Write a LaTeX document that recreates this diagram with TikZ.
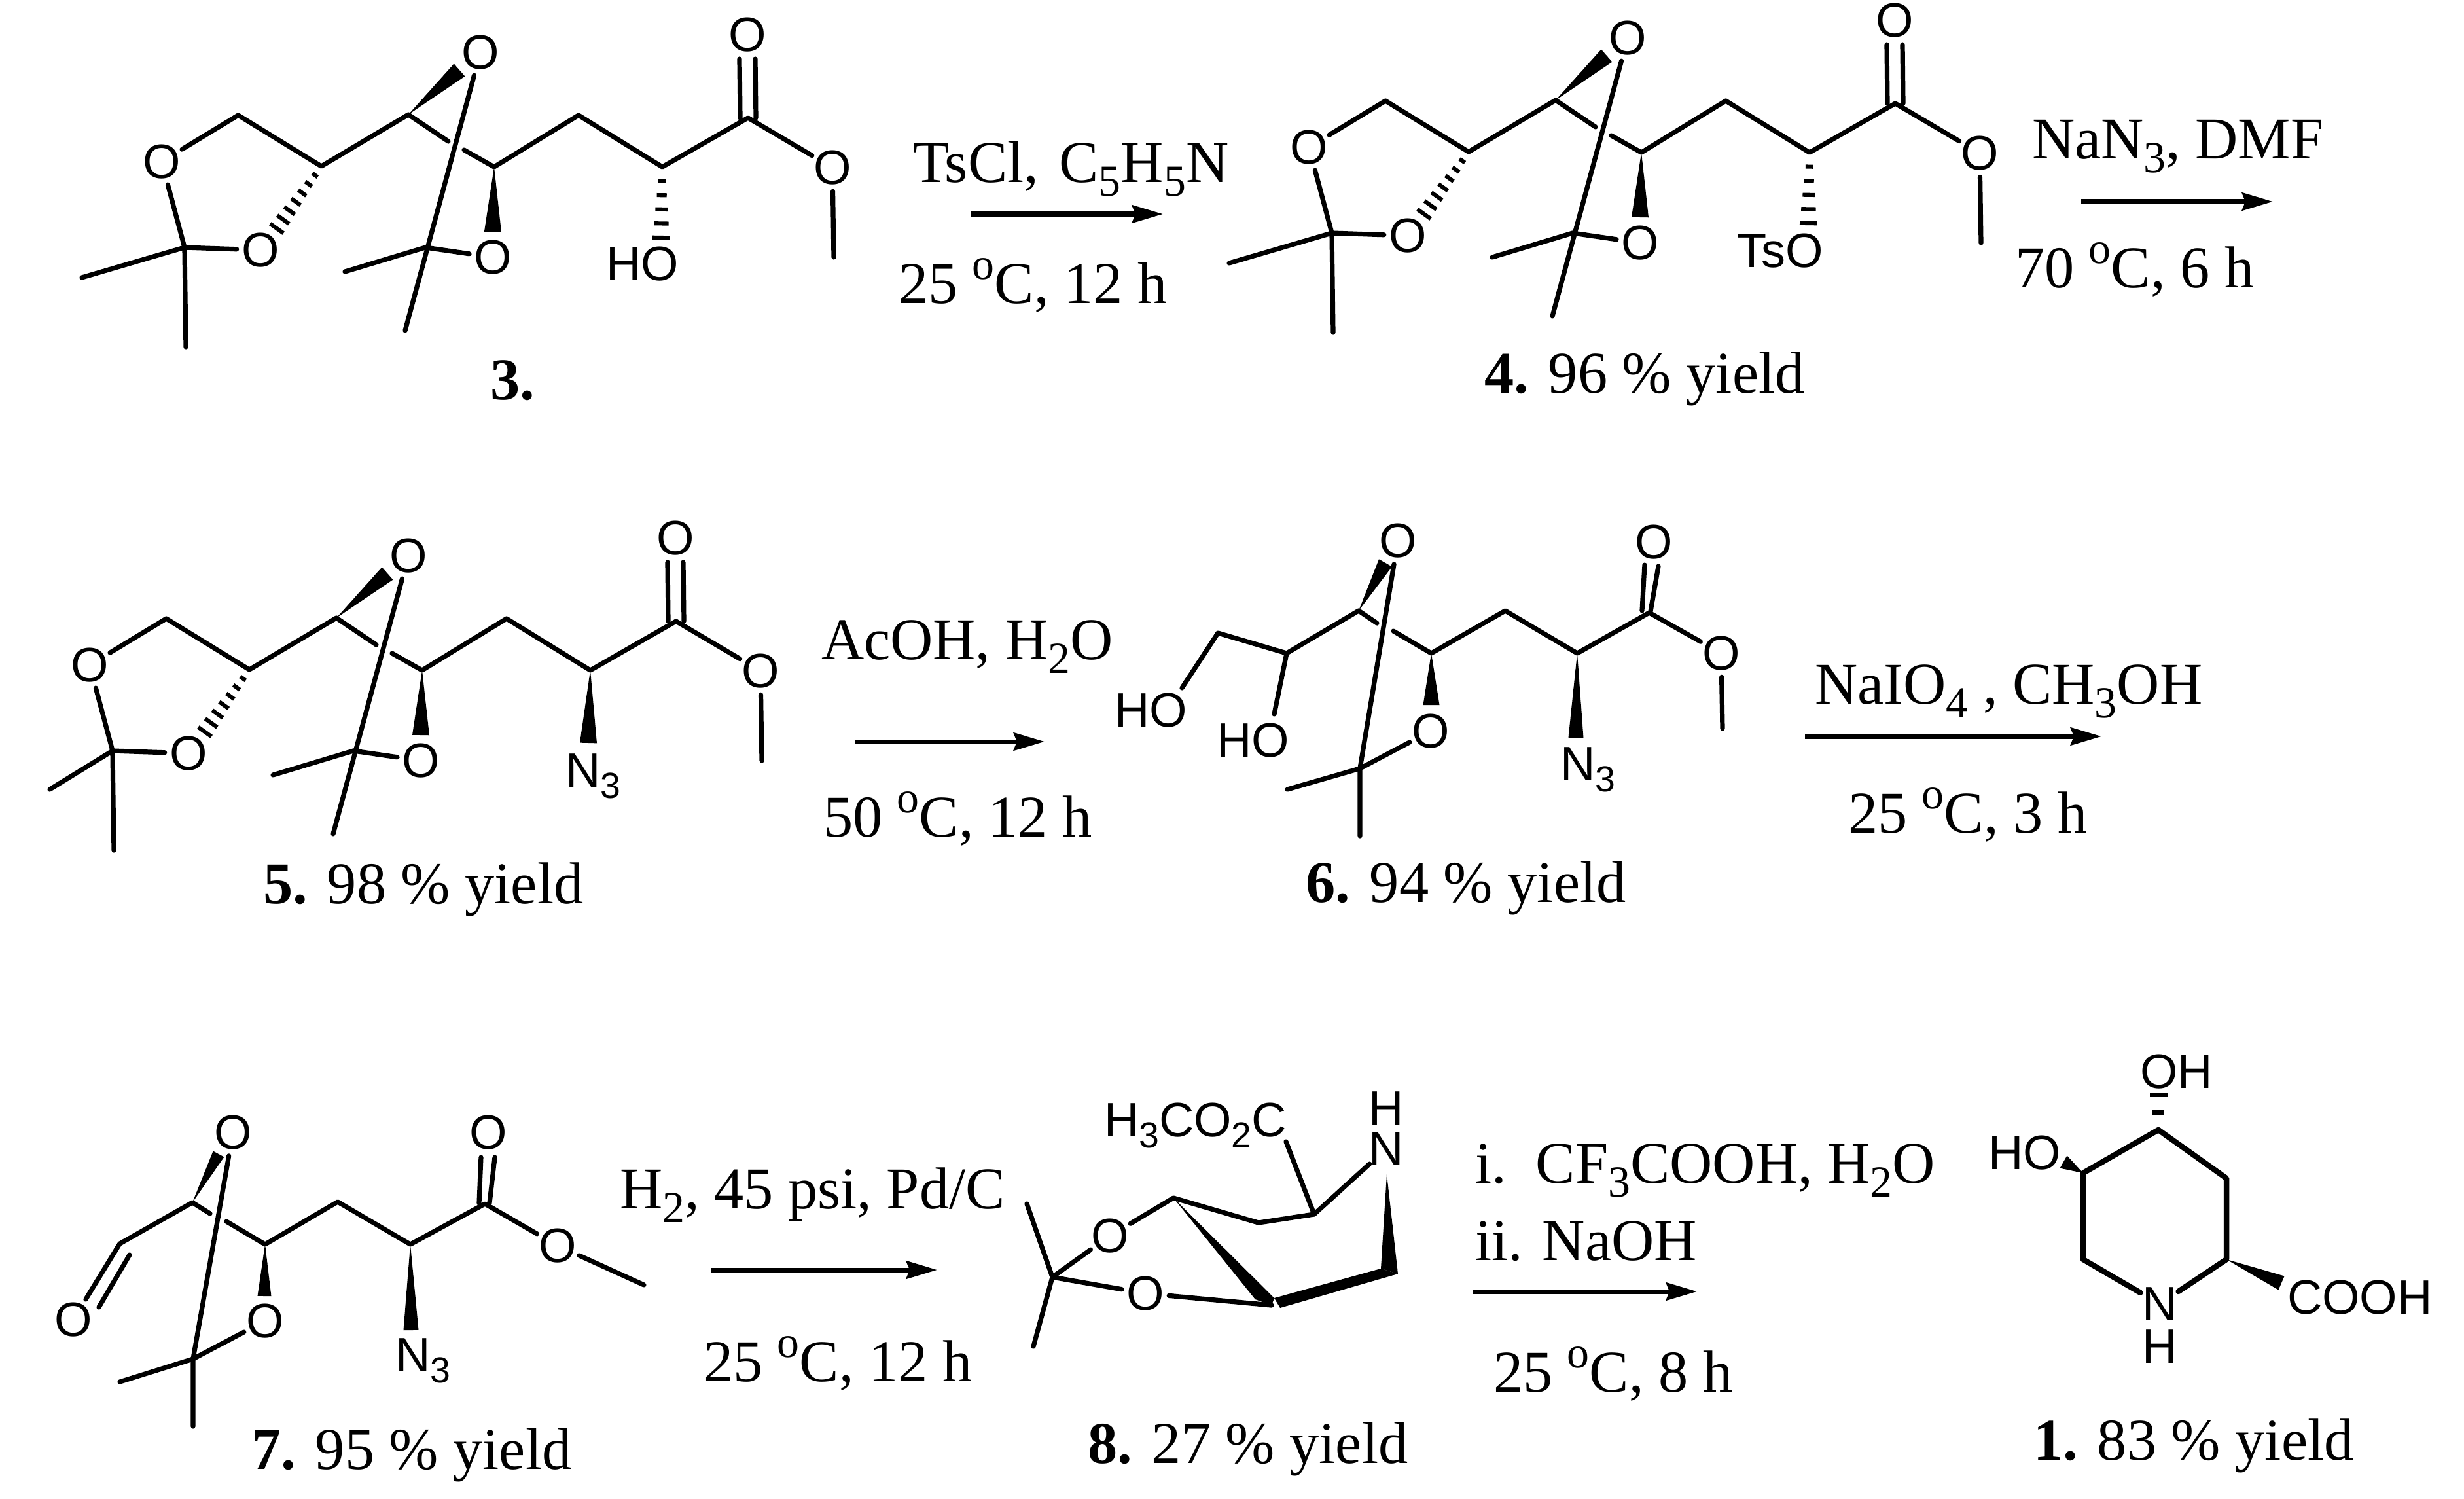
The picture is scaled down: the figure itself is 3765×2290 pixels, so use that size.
\documentclass[tikz,border=0pt]{standalone}
\usepackage{fontspec}
\setmainfont{Liberation Serif}
\setsansfont{Liberation Sans}
\usetikzlibrary{calc,arrows.meta}

\newcommand{\chemsub}[1]{\raisebox{-0.24em}{\scalebox{0.75}{#1}}}
\newcommand{\chemsup}[1]{\raisebox{0.4em}{\scalebox{0.75}{#1}}}

\tikzset{
  bond/.style={line width=2.05pt,line cap=round,line join=round},
  atom/.style={circle,inner sep=-0.5pt,outer sep=0pt,font=\sffamily\fontsize{21pt}{24pt}\selectfont},
  lab/.style={inner sep=0pt,outer sep=0pt,font=\sffamily\fontsize{21pt}{24pt}\selectfont},
  txt/.style={anchor=base west,inner sep=0pt,outer sep=0pt,font=\rmfamily\fontsize{25.7pt}{30pt}\selectfont},
  rxn/.style={line width=2pt,-{Stealth[length=4.7mm,width=2.7mm,inset=0.5mm]}}
}

% solid and hashed stereo bonds: from, to, half width at the far end
\newcommand{\wedgebond}[3]{\fill (#1) -- ($(#2)!#3!90:(#1)$) -- ($(#2)!#3!-90:(#1)$) -- cycle;}
\newcommand{\hashbond}[4]{%
  \foreach \k in {1,...,#4}{
    \pgfmathsetmacro{\t}{\k/#4}
    \pgfmathsetmacro{\h}{#3*(0.3+0.7*\t)}
    \coordinate (hc) at ($(#1)!\t!(#2)$);
    \draw[line width=1.75pt] ($(hc)!\h cm!90:(#1)$) -- ($(hc)!\h cm!-90:(#1)$);
  }}

% the chain shared by 3, 4 and 5
\newcommand{\dioxchain}{
  \node[atom] (oa) at (247,247) {O};
  \node[atom] (ob) at (398,382) {O};
  \node[atom] (oc) at (734,80) {O};
  \node[atom] (od) at (753,393) {O};
  \node[atom] (oe) at (1142,53) {O};
  \node[atom] (of) at (1272,256) {O};
  \coordinate (ca) at (364,176);
  \coordinate (cb) at (491,254);
  \coordinate (cc) at (624,175);
  \coordinate (cd) at (755,255);
  \coordinate (ce) at (884,176);
  \coordinate (cf) at (1012,255);
  \coordinate (cg) at (1143,180);
  \coordinate (qa) at (282,378);
  \coordinate (qb) at (650,378);
  \coordinate (ma) at (284,530);
  \coordinate (mb) at (527,415);
  \coordinate (mc) at (619,505);
  \coordinate (md) at (1274,393);
  \coordinate (xa) at (685,216);
  \coordinate (xb) at (709,229);
  \coordinate (wa) at (702,107);
  \coordinate (wb) at (753,354);
  \coordinate (hb) at (423,349);
  \draw[bond] (oa) -- (ca) -- (cb) -- (cc) -- (xa);
  \draw[bond] (xb) -- (cd) -- (ce) -- (cf) -- (cg) -- (of) -- (md);
  \draw[bond] (oa) -- (qa) -- (ob);
  \draw[bond] (qa) -- (ma);
  \draw[bond] (oc) -- (mc);
  \draw[bond] (qb) -- (mb);
  \draw[bond] (qb) -- (od);
  \draw[bond] ($(cg)+(-12,0)$) -- ($(oe)+(-12,37)$);
  \draw[bond] ($(cg)+(12,0)$) -- ($(oe)+(12,37)$);
  \wedgebond{cc}{wa}{0.127cm}
  \wedgebond{cd}{wb}{0.13cm}
  \hashbond{cb}{hb}{0.125}{7}
}

\begin{document}
\begin{tikzpicture}[x=0.01cm,y=-0.01cm]
  \useasboundingbox (0,0) rectangle (3765,2290);

  % 3
  \begin{scope}
    \dioxchain
    \coordinate (mz) at (125,424);
    \coordinate (hz) at (1010,363);
    \draw[bond] (qa) -- (mz);
    \hashbond{cf}{hz}{0.13}{5}
    \node[lab,anchor=base east] (hoa) at (1037,428) {HO};
  \end{scope}
  \node[txt] (nma) at (749,610) {\textbf{3.}};

  % first step
  \node[txt] (ra) at (1395,278) {TsCl,\hspace{0.1em} C\chemsub{5}H\chemsub{5}N};
  \node[txt] (rb) at (1373,463) {25 \chemsup{o}C, 12 h};
  \coordinate (aa) at (1483,327);
  \coordinate (ab) at (1777,327);
  \draw[rxn] (aa) -- (ab);

  % 4
  \begin{scope}[shift={(1753,-22)}]
    \dioxchain
    \coordinate (mz) at (125,424);
    \coordinate (hz) at (1010,363);
    \draw[bond] (qa) -- (mz);
    \hashbond{cf}{hz}{0.13}{5}
    \node[lab,anchor=base east] (tso) at (1033,430) {TsO};
  \end{scope}
  \node[txt] (nmb) at (2268,600) {\textbf{4.} 96 \% yield};

  % second step
  \node[txt] (rc) at (3105,242) {NaN\chemsub{3}, DMF};
  \node[txt] (rd) at (3079,439) {70 \chemsup{o}C, 6 h};
  \coordinate (ac) at (3180,308);
  \coordinate (ad) at (3473,308);
  \draw[rxn] (ac) -- (ad);

  % 5
  \begin{scope}[shift={(-110,769)}]
    \dioxchain
    \coordinate (mz) at (186,437);
    \coordinate (nz) at (1009,366);
    \draw[bond] (qa) -- (mz);
    \wedgebond{cf}{nz}{0.13cm}
    \node[lab,anchor=base west] (na) at (974,433) {N\chemsub{3}};
  \end{scope}
  \node[txt] (nmc) at (402,1380) {\textbf{5.} 98 \% yield};

  % third step
  \node[txt] (re) at (1255,1007) {AcOH, H\chemsub{2}O};
  \node[txt] (rf) at (1258,1278) {50 \chemsup{o}C, 12 h};
  \coordinate (ae) at (1306,1133);
  \coordinate (af) at (1596,1133);
  \draw[rxn] (ae) -- (af);

  % 6
  \begin{scope}
    \node[atom] (pa) at (2136,826) {O};
    \node[atom] (pb) at (2186,1117) {O};
    \node[atom] (pc) at (2527,828) {O};
    \node[atom] (pd) at (2630,998) {O};
    \coordinate (da) at (1861,967);
    \coordinate (db) at (1966,998);
    \coordinate (dc) at (2076,933);
    \coordinate (dd) at (2187,998);
    \coordinate (de) at (2300,933);
    \coordinate (df) at (2410,998);
    \coordinate (dg) at (2520,936);
    \coordinate (dq) at (2078,1174);
    \coordinate (dm) at (2078,1277);
    \coordinate (dn) at (1967,1206);
    \coordinate (dk) at (2632,1113);
    \coordinate (dh) at (1806,1051);
    \coordinate (di) at (1947,1091);
    \coordinate (xc) at (2104,952);
    \coordinate (xd) at (2129,964);
    \coordinate (wc) at (2117,860);
    \coordinate (wd) at (2187,1077);
    \coordinate (we) at (2408,1127);
    \draw[bond] (dh) -- (da) -- (db) -- (dc) -- (xc);
    \draw[bond] (xd) -- (dd) -- (de) -- (df) -- (dg) -- (pd) -- (dk);
    \draw[bond] (db) -- (di);
    \draw[bond] (pa) -- (dq) -- (dm);
    \draw[bond] (dn) -- (dq) -- (pb);
    \coordinate (ea) at (2509,933);
    \coordinate (eb) at (2513,863);
    \coordinate (ec) at (2522,934);
    \coordinate (ed) at (2534,865);
    \draw[bond] (ea) -- (eb);
    \draw[bond] (ec) -- (ed);
    \wedgebond{dc}{wc}{0.115cm}
    \wedgebond{dd}{wd}{0.125cm}
    \wedgebond{df}{we}{0.115cm}
    \node[lab,anchor=base east] (hob) at (1814,1110) {HO};
    \node[lab,anchor=base east] (hoc) at (1970,1156) {HO};
    \node[lab,anchor=base west] (nb) at (2384,1192) {N\chemsub{3}};
  \end{scope}
  \node[txt] (nmd) at (1995,1378) {\textbf{6.} 94 \% yield};

  % fourth step
  \node[txt] (rg) at (2773,1075) {NaIO\chemsub{4} , CH\chemsub{3}OH};
  \node[txt] (rh) at (2824,1272) {25 \chemsup{o}C, 3 h};
  \coordinate (ag) at (2758,1125);
  \coordinate (ah) at (3211,1125);
  \draw[rxn] (ag) -- (ah);

  % 7
  \begin{scope}
    \node[atom] (sa) at (356,1730) {O};
    \node[atom] (sb) at (405,2018) {O};
    \node[atom] (sc) at (112,2016) {O};
    \node[atom] (sd) at (746,1730) {O};
    \node[atom] (se) at (852,1903) {O};
    \coordinate (ga) at (183,1900);
    \coordinate (gb) at (294,1837);
    \coordinate (gc) at (405,1901);
    \coordinate (gd) at (516,1836);
    \coordinate (ge) at (627,1901);
    \coordinate (gf) at (741,1839);
    \coordinate (gq) at (295,2076);
    \coordinate (gm) at (295,2179);
    \coordinate (gn) at (183,2111);
    \coordinate (gk) at (984,1963);
    \coordinate (xe) at (321,1854);
    \coordinate (xf) at (346,1866);
    \coordinate (wf) at (334,1763);
    \coordinate (wg) at (404,1980);
    \coordinate (wh) at (628,2032);
    \draw[bond] (sc) -- (ga) -- (gb) -- (xe);
    \draw[bond] (xf) -- (gc) -- (gd) -- (ge) -- (gf) -- (se) -- (gk);
    \draw[bond] (sa) -- (gq) -- (gm);
    \draw[bond] (gn) -- (gq) -- (sb);
    \coordinate (ha) at (198,1917);
    \coordinate (hb) at (151,1997);
    \coordinate (hd) at (732,1838);
    \coordinate (he) at (735,1768);
    \coordinate (hf) at (748,1838);
    \coordinate (hg) at (756,1768);
    \draw[bond] (ha) -- (hb);
    \draw[bond] (hd) -- (he);
    \draw[bond] (hf) -- (hg);
    \wedgebond{gb}{wf}{0.095cm}
    \wedgebond{gc}{wg}{0.105cm}
    \wedgebond{ge}{wh}{0.115cm}
    \node[lab,anchor=base west] (nc) at (604,2095) {N\chemsub{3}};
  \end{scope}
  \node[txt] (nme) at (384,2244) {\textbf{7.} 95 \% yield};

  % fifth step
  \node[txt] (ri) at (947,1846) {H\chemsub{2}, 45 psi, Pd/C};
  \node[txt] (rj) at (1075,2110) {25 \chemsup{o}C, 12 h};
  \coordinate (ai) at (1087,1940);
  \coordinate (aj) at (1432,1940);
  \draw[rxn] (ai) -- (aj);

  % 8
  \begin{scope}
    \node[atom] (ta) at (1696,1888) {O};
    \node[atom] (tb) at (1750,1976) {O};
    \node[atom] (tn) at (2118,1755) {N};
    \node[lab,anchor=base] (th) at (2118,1718) {H};
    \node[lab,anchor=base west] (co) at (1687,1736) {H\chemsub{3}CO\chemsub{2}C};
    \coordinate (ia) at (1569,1839);
    \coordinate (iq) at (1608,1951);
    \coordinate (ib) at (1579,2057);
    \coordinate (ic) at (1793,1830);
    \coordinate (id) at (1923,1868);
    \coordinate (ie) at (2008,1855);
    \coordinate (if) at (1965,1744);
    \coordinate (ig) at (1943,1994);
    \coordinate (ja) at (1918,1985);
    \coordinate (jb) at (1947,1983);
    \coordinate (jc) at (1956,1998);
    \coordinate (jd) at (2136,1946);
    \coordinate (je) at (2110,1938);
    \coordinate (jf) at (2119,1794);
    \draw[bond] (ia) -- (iq) -- (ib);
    \draw[bond] (iq) -- (ta) -- (ic) -- (id) -- (ie) -- (tn);
    \draw[bond] (iq) -- (tb) -- (ig);
    \draw[bond] (ie) -- (if);
    \fill (ic) -- (ja) -- (ig) -- (jb) -- cycle;
    \fill (jb) -- (jc) -- (jd) -- (je) -- cycle;
    \fill (je) -- (jd) -- (jf) -- cycle;
  \end{scope}
  \node[txt] (nmf) at (1662,2235) {\textbf{8.} 27 \% yield};

  % last step
  \node[txt] (rk) at (2254,1807) {i.\ \ CF\chemsub{3}COOH, H\chemsub{2}O};
  \node[txt] (rl) at (2254,1925) {ii. NaOH};
  \node[txt] (rm) at (2282,2126) {25 \chemsup{o}C, 8 h};
  \coordinate (ak) at (2251,1973);
  \coordinate (al) at (2593,1973);
  \draw[rxn] (ak) -- (al);

  % 1
  \begin{scope}
    \node[atom] (un) at (3300,1992) {N};
    \node[lab,anchor=base] (uh) at (3300,2082) {H};
    \node[lab,anchor=base west] (oh) at (3270,1662) {OH};
    \node[lab,anchor=base east] (hod) at (3149,1786) {HO};
    \node[lab,anchor=base west] (cooh) at (3495,2007) {COOH};
    \coordinate (ka) at (3298,1726);
    \coordinate (kb) at (3402,1800);
    \coordinate (kc) at (3402,1924);
    \coordinate (kd) at (3183,1924);
    \coordinate (ke) at (3183,1792);
    \coordinate (kf) at (3298,1673);
    \coordinate (kg) at (3153,1775);
    \coordinate (kh) at (3486,1960);
    \draw[bond,line width=2.4pt] (kd) -- (ke) -- (ka) -- (kb) -- (kc) -- (un);
    \draw[bond,line width=2.4pt] (un) -- (kd);
    \wedgebond{ke}{kg}{0.11cm}
    \wedgebond{kc}{kh}{0.115cm}
    \hashbond{ka}{kf}{0.135}{2}
  \end{scope}
  \node[txt] (nmg) at (3107,2230) {\textbf{1.} 83 \% yield};
\end{tikzpicture}
\end{document}
